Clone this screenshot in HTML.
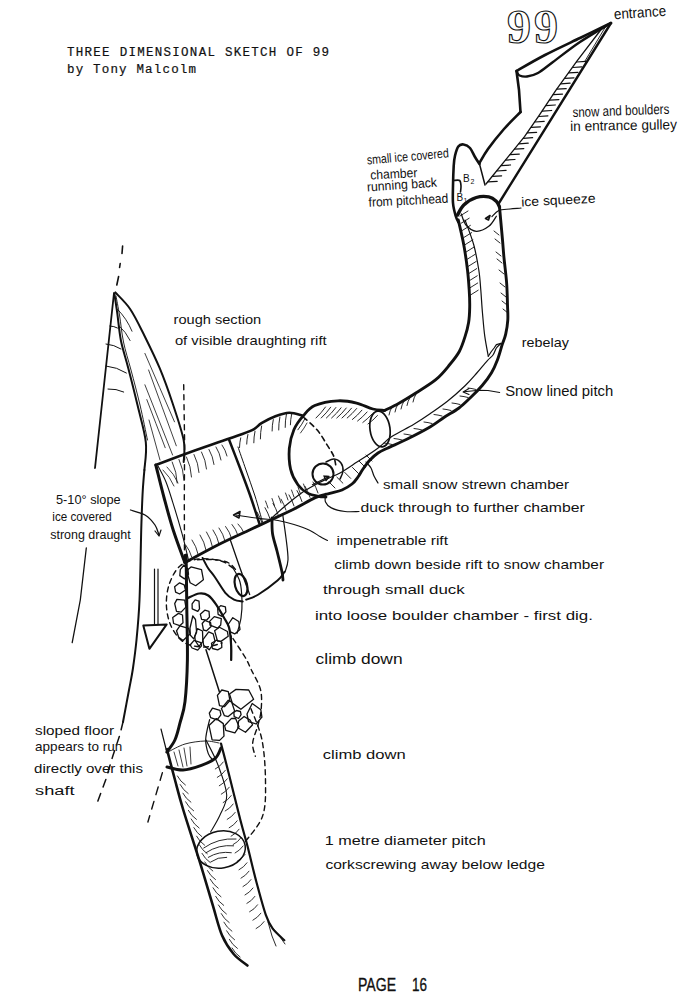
<!DOCTYPE html>
<html><head><meta charset="utf-8"><style>
html,body{margin:0;padding:0;background:#fff;overflow:hidden;width:689px;height:1000px;}
svg{display:block;}
.mono{font-family:"Liberation Mono",monospace;font-size:12.5px;fill:#111;stroke:#111;stroke-width:0.2;}
.hand{font-family:"Liberation Sans",sans-serif;font-size:13px;fill:#111;}
.nine{font-family:"Liberation Serif",serif;font-size:48px;font-weight:bold;fill:#fff;stroke:#111;stroke-width:1.1;}
.bl{font-family:"Liberation Sans",sans-serif;font-size:10px;fill:#111;}
.bs{font-family:"Liberation Sans",sans-serif;font-size:7px;fill:#111;}
.page{font-family:"Liberation Sans",sans-serif;font-size:18px;fill:#111;stroke:#111;stroke-width:0.35;}
</style></head><body>
<svg width="689" height="1000" viewBox="0 0 689 1000">
<rect width="689" height="1000" fill="#fff"/>
<g fill="none" stroke="#111" stroke-linecap="round" stroke-linejoin="round">
<path d="M611.0 23.0 C605.8 25.5 591.0 32.7 580.0 38.0 C569.0 43.3 555.6 49.5 545.0 55.0 C534.4 60.5 521.2 68.3 516.5 71.0" stroke-width="2.6" />
<path d="M517.0 72.0 C517.4 72.6 517.8 74.8 519.5 75.5 C521.2 76.2 523.9 76.9 527.0 76.5 C530.1 76.1 533.7 75.4 538.0 73.0 C542.3 70.6 546.0 67.2 553.0 62.0 C560.0 56.8 570.3 48.5 580.0 42.0 C589.7 35.5 605.8 26.2 611.0 23.0" stroke-width="2.4" />
<path d="M516.5 71.0 L519.0 90.0 L520.5 112.0" stroke-width="2.6" />
<path d="M520.5 112.0 C517.8 114.8 509.4 122.8 504.0 129.0 C498.6 135.2 492.1 143.3 488.0 149.0 C483.9 154.7 480.9 160.7 479.5 163.0" stroke-width="2.6" />
<path d="M611.0 23.0 L499.0 203.0" stroke-width="2.4" />
<path d="M606.0 26.0 L585.0 61.0" stroke-width="0.9" />
<path d="M603.0 27.0 L576.9 61.2 L556.0 90.2 L539.0 115.7 L524.5 136.6 L486.0 184.0" stroke-width="1.3" />
<line x1="576.6" y1="62.0" x2="585.8" y2="61.4" stroke-width="1.25" />
<line x1="572.7" y1="67.5" x2="581.9" y2="66.9" stroke-width="1.25" />
<line x1="568.8" y1="72.9" x2="578.0" y2="72.3" stroke-width="1.25" />
<line x1="564.8" y1="78.3" x2="574.0" y2="77.8" stroke-width="1.25" />
<line x1="560.9" y1="83.8" x2="570.1" y2="83.2" stroke-width="1.25" />
<line x1="557.0" y1="89.2" x2="566.2" y2="88.7" stroke-width="1.25" />
<line x1="553.3" y1="94.7" x2="562.5" y2="94.1" stroke-width="1.25" />
<line x1="549.7" y1="100.2" x2="558.9" y2="99.6" stroke-width="1.25" />
<line x1="546.0" y1="105.6" x2="555.2" y2="105.0" stroke-width="1.25" />
<line x1="542.4" y1="111.1" x2="551.6" y2="110.5" stroke-width="1.25" />
<line x1="538.7" y1="116.5" x2="547.9" y2="115.9" stroke-width="1.25" />
<line x1="535.0" y1="122.0" x2="544.2" y2="121.4" stroke-width="1.25" />
<line x1="531.2" y1="127.4" x2="540.4" y2="126.8" stroke-width="1.25" />
<line x1="527.4" y1="132.9" x2="536.6" y2="132.3" stroke-width="1.25" />
<line x1="523.4" y1="138.3" x2="532.6" y2="137.7" stroke-width="1.25" />
<line x1="519.0" y1="143.8" x2="528.2" y2="143.2" stroke-width="1.25" />
<line x1="514.6" y1="149.2" x2="523.8" y2="148.6" stroke-width="1.25" />
<line x1="510.1" y1="154.7" x2="519.3" y2="154.1" stroke-width="1.25" />
<line x1="505.7" y1="160.1" x2="514.9" y2="159.5" stroke-width="1.25" />
<line x1="501.3" y1="165.6" x2="510.5" y2="165.0" stroke-width="1.25" />
<line x1="496.9" y1="171.0" x2="506.1" y2="170.4" stroke-width="1.25" />
<line x1="492.4" y1="176.4" x2="501.6" y2="175.8" stroke-width="1.25" />
<line x1="488.0" y1="181.9" x2="497.2" y2="181.3" stroke-width="1.25" />
<path d="M479.5 164.0 C478.8 162.8 476.6 159.7 475.0 157.0 C473.4 154.3 471.9 150.1 470.0 148.0 C468.1 145.9 465.4 144.8 463.5 144.5 C461.6 144.2 459.7 144.6 458.3 146.5 C456.9 148.4 455.8 152.4 455.0 155.7 C454.2 158.9 454.0 160.9 453.7 166.0 C453.4 171.1 453.1 179.8 453.0 186.0 C452.9 192.2 452.6 198.0 453.0 203.0 C453.4 208.0 454.8 212.8 455.7 216.0 C456.6 219.2 457.9 221.0 458.3 222.0" stroke-width="2.6" />
<path d="M479.5 164.0 L485.0 185.0" stroke-width="1.5" />
<path d="M453.7 180.5 C454.7 180.5 458.4 179.6 459.6 180.5 C460.8 181.4 460.9 184.1 461.0 186.0 C461.1 187.9 460.6 191.0 460.5 192.0" stroke-width="1.6" />
<path d="M457.5 215.0 C458.6 213.3 460.7 207.9 463.8 205.0 C466.9 202.1 472.1 198.8 476.3 197.5 C480.5 196.2 485.5 196.3 488.8 196.9 C492.1 197.5 494.5 199.6 496.3 201.3 C498.1 203.0 499.0 206.1 499.5 207.0" stroke-width="3.4" />
<path d="M461.3 214.0 C462.1 215.8 463.5 222.1 466.0 225.0 C468.5 227.9 472.5 231.1 476.3 231.3 C480.1 231.5 485.5 228.8 488.8 226.3 C492.1 223.8 495.1 218.0 496.3 216.3" stroke-width="1.3" />
<path d="M485.5 218.5 L490.0 215.5 L488.5 220.0 L485.5 218.5" stroke-width="1.6" />
<path d="M492.0 216.5 C493.1 215.5 495.8 211.8 498.8 210.5 C501.8 209.2 506.3 209.4 510.0 209.0 C513.7 208.6 519.2 208.2 521.0 208.0" stroke-width="1.2" />
<path d="M458.3 220.0 C459.2 224.2 462.3 236.7 463.8 245.0 C465.3 253.3 466.6 262.5 467.5 270.0 C468.4 277.5 468.8 283.8 469.2 290.0 C469.6 296.2 469.8 302.0 469.7 307.4 C469.6 312.8 469.4 317.7 468.6 322.5 C467.8 327.3 466.7 331.6 465.1 336.4 C463.6 341.2 461.8 346.9 459.3 351.5 C456.8 356.1 453.9 359.6 450.0 364.3 C446.1 369.0 441.9 374.7 435.8 379.7 C429.7 384.7 419.6 390.6 413.5 394.5 C407.4 398.4 403.8 400.5 399.0 403.2 C394.2 405.9 386.9 409.3 384.5 410.5" stroke-width="2.9" />
<path d="M184.8 562.6 C190.6 559.5 208.8 549.5 219.7 544.0 C230.6 538.5 241.3 533.8 250.0 529.7 C258.7 525.6 264.6 522.9 271.8 519.5 C279.1 516.1 286.2 512.9 293.5 509.3 C300.8 505.7 309.2 500.4 315.3 497.7 C321.4 495.0 325.4 494.7 329.8 493.4 C334.2 492.1 338.3 491.6 342.0 490.0 C345.7 488.4 349.3 486.2 352.0 484.0 C354.7 481.8 356.2 479.5 358.0 477.0 C359.8 474.5 361.0 471.8 363.0 469.0 C365.0 466.2 367.5 462.7 370.0 460.0 C372.5 457.3 375.1 455.0 378.0 453.0 C380.9 451.0 382.7 450.4 387.4 448.2 C392.1 445.9 399.2 443.0 406.3 439.5 C413.4 436.0 423.7 430.7 430.0 427.0 C436.3 423.3 439.1 420.7 443.9 417.5 C448.7 414.3 454.6 411.3 459.0 408.0 C463.4 404.7 466.7 401.2 470.6 397.5 C474.5 393.8 478.7 389.6 482.2 385.5 C485.7 381.4 489.0 377.1 491.5 372.8 C494.0 368.6 495.6 364.7 497.4 360.0 C499.2 355.3 500.8 348.9 502.2 344.6 C503.6 340.3 504.8 338.2 505.7 334.1 C506.6 330.0 507.5 324.9 507.8 320.0 C508.1 315.1 507.7 311.2 507.5 305.0 C507.3 298.8 507.2 290.3 506.6 282.5 C506.0 274.7 504.7 265.1 504.0 258.0 C503.3 250.9 503.1 246.7 502.5 240.0 C501.9 233.3 501.0 223.5 500.5 218.0 C500.0 212.5 499.7 208.8 499.5 207.0" stroke-width="2.9" />
<path d="M326.0 497.0 C324.7 496.9 321.2 496.9 318.2 496.3 C315.2 495.7 311.4 495.3 308.0 493.4 C304.6 491.5 300.8 488.7 297.9 484.7 C295.0 480.7 292.0 475.4 290.6 469.3 C289.2 463.2 288.8 455.0 289.3 448.4 C289.9 441.8 291.6 435.2 293.9 429.8 C296.2 424.4 299.7 419.9 303.2 415.9 C306.7 411.8 309.0 408.0 314.8 405.5 C320.6 403.0 331.0 401.2 338.0 400.8 C345.0 400.4 350.8 401.7 356.6 403.1 C362.4 404.5 368.2 407.8 372.9 409.0 C377.5 410.2 382.6 410.2 384.5 410.5" stroke-width="2.8" />
<path d="M465.0 220.0 C466.5 224.2 471.5 236.7 473.8 245.0 C476.1 253.3 477.6 262.5 478.8 270.0 C480.0 277.5 480.2 282.8 480.8 290.0 C481.4 297.2 481.8 305.5 482.5 313.2 C483.2 320.9 483.8 329.2 484.8 336.4 C485.8 343.6 487.7 352.9 488.3 356.2" stroke-width="1.2" />
<path d="M488.3 356.2 L491.0 352.0 L494.1 348.0 L496.4 344.6 L501.0 343.4" stroke-width="1.2" />
<path d="M501.0 343.4 C500.2 344.2 497.7 346.1 496.4 348.0 C495.1 349.9 494.5 352.9 493.0 355.0 C491.5 357.1 490.0 357.7 487.2 360.8 C484.4 363.9 480.1 369.3 476.4 373.5 C472.7 377.7 469.6 381.4 464.8 386.0 C460.0 390.6 453.2 396.7 447.4 401.3 C441.6 405.9 435.6 409.9 430.0 413.8 C424.4 417.7 419.9 420.7 413.5 424.5 C407.1 428.3 397.8 432.6 391.8 436.6 C385.8 440.6 383.4 444.1 377.5 448.4 C371.6 452.7 362.9 458.2 356.6 462.3 C350.4 466.4 344.9 470.2 340.0 473.0 C335.1 475.8 331.1 476.9 327.0 478.9 C322.9 480.8 319.7 482.3 315.3 484.7 C310.9 487.1 305.6 490.0 300.8 493.4 C296.0 496.8 290.9 501.1 286.3 505.0 C281.7 508.9 275.4 514.7 273.2 516.6" stroke-width="1.2" />
<ellipse cx="380" cy="429" rx="10" ry="18" transform="rotate(-8 380 429)" stroke-width="1.7"/>
<path d="M303.2 417.0 C305.5 419.1 313.1 425.3 317.0 429.8 C320.9 434.3 323.7 439.5 326.4 443.8 C329.1 448.1 331.8 451.9 333.4 455.4 C334.9 458.9 335.3 463.1 335.7 464.7" stroke-width="1.6" stroke-dasharray="5 4"/>
<circle cx="323" cy="474" r="10.5" stroke-width="2"/>
<path d="M326.0 462.0 C327.3 461.5 331.5 458.8 334.0 459.0 C336.5 459.2 339.5 461.0 341.0 463.0 C342.5 465.0 343.2 468.3 343.0 471.0 C342.8 473.7 340.5 477.7 340.0 479.0" stroke-width="1.5" />
<path d="M312.4 484.7 L328.4 476.7" stroke-width="1.1" />
<path d="M324.0 476.0 L329.0 476.5 L326.0 480.5 L324.0 476.0" stroke-width="1.4" />
<path d="M366.0 462.0 C366.8 463.0 369.7 465.7 371.0 468.0 C372.3 470.3 372.8 473.5 374.0 476.0 C375.2 478.5 377.3 481.8 378.0 483.0" stroke-width="1.2" />
<path d="M325.5 493.4 C325.5 494.8 324.5 499.6 325.5 502.0 C326.5 504.4 328.1 506.3 331.3 507.9 C334.6 509.5 340.4 510.9 345.0 511.5 C349.6 512.1 356.7 511.5 359.0 511.5" stroke-width="1.2" />
<path d="M392.0 407.0 Q389.7 410.7 389.0 415.0" stroke-width="0.9"/>
<path d="M398.0 404.0 Q395.7 407.7 395.0 412.0" stroke-width="0.9"/>
<path d="M404.0 401.0 Q401.7 404.7 401.0 409.0" stroke-width="0.9"/>
<path d="M410.0 397.5 Q407.7 401.2 407.0 405.5" stroke-width="0.9"/>
<path d="M416.0 394.0 Q413.7 397.7 413.0 402.0" stroke-width="0.9"/>
<path d="M392.0 444.5 Q388.1 443.4 384.0 443.0" stroke-width="0.9"/>
<path d="M402.0 440.0 Q398.1 438.9 394.0 438.5" stroke-width="0.9"/>
<path d="M412.0 435.5 Q408.1 434.4 404.0 434.0" stroke-width="0.9"/>
<path d="M422.0 430.0 Q418.1 428.9 414.0 428.5" stroke-width="0.9"/>
<path d="M432.0 423.5 Q428.1 422.4 424.0 422.0" stroke-width="0.9"/>
<path d="M442.0 416.0 Q438.1 414.9 434.0 414.5" stroke-width="0.9"/>
<path d="M451.0 410.5 Q447.1 409.4 443.0 409.0" stroke-width="0.9"/>
<path d="M460.0 404.5 Q456.1 403.4 452.0 403.0" stroke-width="0.9"/>
<path d="M468.0 397.5 Q464.1 396.4 460.0 396.0" stroke-width="0.9"/>
<path d="M476.0 389.5 Q472.1 388.4 468.0 388.0" stroke-width="0.9"/>
<path d="M335.0 488.0 Q332.0 485.0 329.0 482.0" stroke-width="0.9"/>
<path d="M342.9 483.2 Q339.9 480.2 336.9 477.2" stroke-width="0.9"/>
<path d="M350.7 478.4 Q347.7 475.4 344.7 472.4" stroke-width="0.9"/>
<path d="M358.5 473.5 Q355.5 470.5 352.5 467.5" stroke-width="0.9"/>
<path d="M365.3 467.3 Q362.3 464.3 359.3 461.3" stroke-width="0.9"/>
<path d="M372.0 461.0 Q369.0 458.0 366.0 455.0" stroke-width="0.9"/>
<path d="M262.0 523.0 Q260.1 517.2 257.0 512.0" stroke-width="0.9"/>
<path d="M270.0 518.7 Q268.1 513.0 265.0 507.7" stroke-width="0.9"/>
<path d="M278.0 514.4 Q276.1 508.7 273.0 503.4" stroke-width="0.9"/>
<path d="M286.0 510.1 Q284.1 504.4 281.0 499.1" stroke-width="0.9"/>
<path d="M294.0 505.9 Q292.1 500.1 289.0 494.9" stroke-width="0.9"/>
<path d="M302.0 501.6 Q300.1 495.8 297.0 490.6" stroke-width="0.9"/>
<path d="M310.0 497.3 Q308.1 491.5 305.0 486.3" stroke-width="0.9"/>
<path d="M318.0 493.0 Q316.1 487.2 313.0 482.0" stroke-width="0.9"/>
<path d="M316.0 418.0 Q321.3 413.0 325.5 407.0" stroke-width="0.9"/>
<path d="M321.2 418.0 Q326.5 413.1 330.7 407.2" stroke-width="0.9"/>
<path d="M326.4 418.0 Q331.7 413.2 335.9 407.5" stroke-width="0.9"/>
<path d="M331.6 418.0 Q336.9 413.4 341.1 407.8" stroke-width="0.9"/>
<path d="M336.8 418.0 Q342.1 413.5 346.3 408.0" stroke-width="0.9"/>
<path d="M342.0 418.0 Q347.2 413.6 351.5 408.2" stroke-width="0.9"/>
<path d="M347.2 418.0 Q352.4 413.7 356.7 408.5" stroke-width="0.9"/>
<path d="M352.4 419.5 Q357.6 415.4 361.9 410.2" stroke-width="0.9"/>
<path d="M357.6 421.0 Q362.8 417.0 367.1 412.0" stroke-width="0.9"/>
<path d="M362.8 422.5 Q368.0 418.6 372.3 413.8" stroke-width="0.9"/>
<path d="M368.0 424.0 Q373.2 420.2 377.5 415.5" stroke-width="0.9"/>
<path d="M297.9 429.8 Q302.1 424.4 305.2 418.2" stroke-width="0.9"/>
<path d="M300.5 433.0 Q304.2 428.3 307.0 423.0" stroke-width="0.8"/>
<path d="M460.0 216.0 Q464.0 213.5 468.0 211.0" stroke-width="0.9"/>
<path d="M461.2 223.2 Q465.2 220.7 469.2 218.2" stroke-width="0.9"/>
<path d="M462.4 230.4 Q466.4 227.9 470.4 225.4" stroke-width="0.9"/>
<path d="M463.7 237.6 Q467.7 235.1 471.7 232.6" stroke-width="0.9"/>
<path d="M464.9 244.8 Q468.9 242.3 472.9 239.8" stroke-width="0.9"/>
<path d="M466.1 252.0 Q470.1 249.5 474.1 247.0" stroke-width="0.9"/>
<path d="M467.3 259.2 Q471.3 256.7 475.3 254.2" stroke-width="0.9"/>
<path d="M468.2 266.4 Q472.2 263.9 476.2 261.4" stroke-width="0.9"/>
<path d="M468.7 273.6 Q472.7 271.1 476.7 268.6" stroke-width="0.9"/>
<path d="M469.2 280.8 Q473.2 278.3 477.2 275.8" stroke-width="0.9"/>
<path d="M469.7 288.0 Q473.7 285.5 477.7 283.0" stroke-width="0.9"/>
<path d="M470.2 295.2 Q474.2 292.7 478.2 290.2" stroke-width="0.9"/>
<path d="M494.0 231.0 Q496.5 233.0 499.0 235.0" stroke-width="0.9"/>
<path d="M495.0 239.0 Q497.5 241.0 500.0 243.0" stroke-width="0.9"/>
<path d="M496.0 252.0 Q498.5 254.0 501.0 256.0" stroke-width="0.9"/>
<path d="M497.0 259.0 Q499.5 261.0 502.0 263.0" stroke-width="0.9"/>
<path d="M499.0 270.0 Q501.5 272.0 504.0 274.0" stroke-width="0.9"/>
<path d="M500.0 283.0 Q502.5 285.0 505.0 287.0" stroke-width="0.9"/>
<path d="M501.0 293.0 Q503.5 295.0 506.0 297.0" stroke-width="0.9"/>
<path d="M502.0 301.0 Q504.5 303.0 507.0 305.0" stroke-width="0.9"/>
<path d="M503.0 309.0 Q505.5 311.0 508.0 313.0" stroke-width="0.9"/>
<path d="M155.8 465.0 C161.8 462.8 179.6 455.9 192.0 451.5 C204.4 447.1 220.1 441.9 230.1 438.3 C240.1 434.8 247.0 432.7 252.2 430.2 C257.4 427.7 257.6 425.5 261.5 423.2 C265.4 420.9 270.8 418.0 275.4 416.3 C280.0 414.6 284.7 412.9 289.3 412.8 C293.9 412.7 300.9 415.4 303.2 415.9" stroke-width="2.6" />
<path d="M155.8 465.0 C157.2 470.4 161.1 486.7 164.0 497.5 C166.9 508.3 169.7 519.1 173.2 530.0 C176.7 540.9 182.9 557.2 184.8 562.6" stroke-width="3.0" />
<path d="M158.0 466.0 C159.3 468.7 163.6 476.0 166.0 482.0 C168.4 488.0 169.9 493.2 172.6 501.8 C175.3 510.4 179.4 524.1 182.1 533.8 C184.8 543.5 187.4 555.6 188.5 560.0" stroke-width="1.1" />
<path d="M229.0 439.5 C230.8 444.2 236.5 458.8 240.0 468.0 C243.5 477.2 246.8 485.8 250.0 495.0 C253.2 504.2 257.7 518.3 259.2 523.0" stroke-width="2.5" />
<path d="M238.0 447.0 C239.3 450.8 243.2 461.8 246.0 470.0 C248.8 478.2 252.2 487.3 255.0 496.0 C257.8 504.7 261.2 517.7 262.5 522.0" stroke-width="1.0" />
<path d="M172.2 462.0 Q176.8 472.0 177.2 483.0" stroke-width="0.85"/>
<path d="M179.0 459.5 Q183.6 469.5 184.0 480.5" stroke-width="0.85"/>
<path d="M186.5 457.0 Q191.0 466.5 191.5 477.0" stroke-width="0.85"/>
<path d="M194.0 454.5 Q198.3 463.0 199.0 472.5" stroke-width="0.85"/>
<path d="M201.5 452.0 Q205.7 460.0 206.5 469.0" stroke-width="0.85"/>
<path d="M209.0 449.5 Q213.0 456.5 214.0 464.5" stroke-width="0.85"/>
<path d="M216.0 447.0 Q219.8 453.0 221.0 460.0" stroke-width="0.85"/>
<path d="M222.0 445.0 Q225.6 450.0 227.0 456.0" stroke-width="0.85"/>
<path d="M163.0 470.0 Q170.1 476.9 174.0 486.0" stroke-width="0.8"/>
<path d="M167.0 467.0 Q174.1 473.9 178.0 483.0" stroke-width="0.8"/>
<path d="M191.7 557.0 Q189.9 550.4 185.7 545.0" stroke-width="0.85"/>
<path d="M198.0 554.0 Q196.4 546.4 192.0 540.0" stroke-width="0.85"/>
<path d="M206.0 550.0 Q204.5 541.9 200.0 535.0" stroke-width="0.85"/>
<path d="M212.5 547.0 Q211.0 538.9 206.5 532.0" stroke-width="0.85"/>
<path d="M219.0 544.0 Q217.4 536.4 213.0 530.0" stroke-width="0.85"/>
<path d="M225.0 541.0 Q223.3 533.9 219.0 528.0" stroke-width="0.85"/>
<path d="M231.6 538.5 Q229.8 531.9 225.6 526.5" stroke-width="0.85"/>
<path d="M238.0 535.5 Q236.1 529.4 232.0 524.5" stroke-width="0.85"/>
<path d="M244.0 533.0 Q241.9 527.9 238.0 524.0" stroke-width="0.85"/>
<path d="M240.7 437.9 Q239.6 442.7 239.5 447.7" stroke-width="0.9"/>
<path d="M247.9 434.5 Q246.8 439.2 246.7 444.1" stroke-width="0.9"/>
<path d="M255.0 431.3 Q253.8 437.0 253.8 442.8" stroke-width="0.9"/>
<path d="M261.6 426.0 Q260.4 432.4 260.4 438.9" stroke-width="0.9"/>
<path d="M273.3 419.6 Q272.1 425.2 272.1 431.0" stroke-width="0.9"/>
<path d="M279.9 417.0 Q278.6 423.4 278.7 430.0" stroke-width="0.9"/>
<path d="M286.4 414.4 Q285.1 420.8 285.2 427.4" stroke-width="0.9"/>
<path d="M291.6 414.4 Q290.5 419.5 290.4 424.8" stroke-width="0.9"/>
<path d="M268.0 508.0 Q266.8 504.5 265.5 501.0" stroke-width="0.85"/>
<path d="M274.5 505.5 Q273.2 502.0 272.0 498.5" stroke-width="0.85"/>
<path d="M281.0 503.0 Q279.8 499.5 278.5 496.0" stroke-width="0.85"/>
<path d="M288.0 500.0 Q286.8 496.5 285.5 493.0" stroke-width="0.85"/>
<path d="M294.0 497.0 Q292.8 493.5 291.5 490.0" stroke-width="0.85"/>
<path d="M300.5 494.0 Q299.2 490.5 298.0 487.0" stroke-width="0.85"/>
<path d="M306.0 491.0 Q304.8 487.5 303.5 484.0" stroke-width="0.85"/>
<path d="M236.0 515.0 C239.8 515.6 252.0 517.5 259.0 518.4 C266.0 519.3 272.2 519.5 278.0 520.5 C283.8 521.5 288.7 522.8 294.0 524.5 C299.3 526.2 305.7 528.5 310.0 530.5 C314.3 532.5 317.1 534.8 320.0 536.5 C322.9 538.2 326.2 539.8 327.5 540.5" stroke-width="1.1" />
<path d="M233.6 515.0 L240.0 511.5 L239.0 518.0 L233.6 515.0" stroke-width="1.6" />
<path d="M114.0 293.0 L95.0 468.0" stroke-width="1.8" />
<path d="M114.4 294.0 C114.9 297.1 116.1 304.9 117.2 312.7 C118.3 320.4 119.1 331.2 120.9 340.5 C122.8 349.8 125.5 357.4 128.3 368.2 C131.1 379.0 134.6 392.8 137.5 405.1 C140.4 417.4 144.7 431.3 145.8 442.1 C147.0 452.9 144.6 465.4 144.4 470.0" stroke-width="2.0" />
<path d="M116.0 296.0 C116.6 299.2 118.2 307.3 119.5 315.0 C120.8 322.7 121.6 332.8 123.5 342.0 C125.4 351.2 128.2 359.5 131.0 370.0 C133.8 380.5 137.2 393.3 140.0 405.0 C142.8 416.7 146.2 434.2 147.5 440.0" stroke-width="0.9" />
<path d="M115.3 292.4 C117.8 295.2 125.5 302.2 130.1 309.0 C134.7 315.8 138.2 323.1 143.1 333.0 C148.0 342.9 154.8 356.5 159.7 368.2 C164.6 379.9 168.6 391.3 172.6 403.3 C176.6 415.3 181.8 430.5 183.7 440.3 C185.5 450.1 183.7 458.4 183.7 462.0" stroke-width="2.0" />
<path d="M122.6 246.0 L122.0 253.5" stroke-width="1.6" />
<path d="M120.2 263.5 L119.6 267.5" stroke-width="1.6" />
<path d="M118.6 276.5 L116.8 285.0" stroke-width="1.6" />
<path d="M183.7 384.8 L184.6 442.0 L184.3 500.0 L184.5 562.0" stroke-width="1.4" stroke-dasharray="5 5"/>
<path d="M109.8 326.0 Q113.9 326.1 117.5 328.0" stroke-width="1.0"/>
<path d="M106.0 344.0 Q114.1 344.7 121.0 349.0" stroke-width="1.0"/>
<path d="M106.0 366.0 Q117.0 367.1 126.4 373.0" stroke-width="1.0"/>
<path d="M108.0 389.0 Q116.2 388.6 123.7 392.0" stroke-width="1.0"/>
<path d="M117.2 309.0 Q126.8 318.6 132.0 331.2" stroke-width="0.9"/>
<path d="M119.0 325.7 Q126.0 332.0 130.1 340.5" stroke-width="0.9"/>
<path d="M144.9 353.4 Q159.7 387.6 174.5 421.8" stroke-width="0.8"/>
<path d="M148.6 370.0 Q162.4 407.9 176.3 445.8" stroke-width="0.8"/>
<path d="M144.9 384.8 Q158.8 419.9 172.6 455.0" stroke-width="0.8"/>
<path d="M146.8 399.6 Q156.0 423.6 165.2 447.7" stroke-width="0.8"/>
<path d="M149.0 420.0 Q154.5 440.0 160.0 460.0" stroke-width="0.8"/>
<path d="M144.4 470.0 C144.1 473.3 143.3 482.0 142.8 490.0 C142.3 498.0 141.9 509.7 141.6 518.0 C141.3 526.3 141.3 526.3 141.0 540.0 C140.7 553.7 140.2 583.3 139.5 600.0 C138.8 616.7 137.6 628.7 136.5 640.0 C135.4 651.3 134.2 659.7 133.0 668.0 C131.8 676.3 130.7 681.0 129.0 690.0 C127.3 699.0 124.0 716.7 123.0 722.0" stroke-width="2.0" />
<path d="M123.0 722.0 L119.9 734.8 L112.9 755.7 L106.0 779.0 L96.6 804.5" stroke-width="1.5" stroke-dasharray="8 7"/>
<path d="M186.1 555.0 C186.2 563.7 186.6 589.7 186.8 607.2 C187.0 624.7 187.7 644.3 187.4 660.0 C187.1 675.7 186.2 691.1 185.0 701.6 C183.8 712.1 181.7 716.5 180.0 722.9 C178.3 729.3 177.1 735.1 174.9 740.0 C172.7 744.9 168.2 750.0 166.8 752.0" stroke-width="3.0" />
<path d="M86.3 548.0 L80.3 600.0 L72.2 642.7" stroke-width="1.3" />
<path d="M154.5 569.0 L154.5 624.4" stroke-width="1.2" />
<path d="M158.0 569.0 L158.0 624.4" stroke-width="1.2" />
<path d="M143.3 625.4 L166.7 624.4 L149.4 648.8 L143.3 625.4" stroke-width="2.0" />
<path d="M130.5 510.0 C132.9 510.8 140.9 512.5 145.0 515.0 C149.1 517.5 152.7 521.7 155.0 525.0 C157.3 528.3 158.3 533.3 159.0 535.0" stroke-width="1.3" />
<path d="M155.0 531.0 L159.0 536.0 L161.0 530.0" stroke-width="1.2" />
<path d="M202.6 558.0 C203.5 559.7 206.0 564.8 208.0 568.0 C210.0 571.2 211.9 572.9 214.8 577.0 C217.7 581.1 222.1 589.0 225.3 592.8 C228.5 596.6 231.1 598.2 234.0 599.7 C236.9 601.2 241.2 601.2 242.7 601.5" stroke-width="2.0" />
<ellipse cx="241" cy="585" rx="6" ry="11.3" transform="rotate(-15 241 585)" stroke-width="2.2"/>
<path d="M246.2 599.7 C248.2 598.8 253.2 597.7 258.4 594.5 C263.6 591.3 273.1 584.4 277.5 580.6 C281.9 576.8 283.3 573.4 284.5 571.9" stroke-width="2.0" />
<path d="M272.0 518.0 C272.1 520.6 271.7 528.0 272.5 533.5 C273.3 539.0 275.4 544.6 277.0 551.0 C278.6 557.4 281.0 567.2 282.0 572.0 C283.0 576.8 282.8 578.7 283.0 580.0" stroke-width="2.8" />
<path d="M282.7 514.4 C283.2 518.3 285.1 530.5 286.0 538.0 C286.9 545.5 288.2 554.0 288.0 559.7 C287.8 565.4 285.5 570.0 285.0 572.0" stroke-width="1.2" />
<path d="M230.5 540.5 C232.1 545.1 236.8 559.0 240.0 568.0 C243.2 577.0 248.1 590.1 249.7 594.5" stroke-width="1.3" />
<path d="M197.4 559.7 C200.3 559.7 209.6 559.2 214.8 559.7 C220.0 560.2 225.0 561.0 228.8 563.0 C232.6 565.0 236.1 570.4 237.5 571.9" stroke-width="1.4" stroke-dasharray="5 4"/>
<path d="M233.0 568.0 C231.0 566.8 226.6 562.5 221.0 561.0 C215.4 559.5 206.0 558.1 199.2 558.9 C192.4 559.7 185.0 561.6 180.0 566.0 C175.0 570.4 171.2 578.1 169.0 585.0 C166.8 591.9 166.0 600.0 166.5 607.2 C167.0 614.4 168.9 622.0 172.0 628.0 C175.1 634.0 179.5 639.8 185.0 643.0 C190.5 646.2 198.8 647.0 205.0 647.0 C211.2 647.0 219.2 643.7 222.0 643.0" stroke-width="1.4" stroke-dasharray="5 4"/>
<path d="M233.0 568.0 C234.2 570.3 238.5 576.5 240.0 582.0 C241.5 587.5 241.8 594.7 242.0 600.7 C242.2 606.7 241.8 612.5 241.0 618.0 C240.2 623.5 237.7 630.8 237.0 633.4" stroke-width="1.2" />
<path d="M188.0 598.0 C189.9 597.2 195.8 593.9 199.2 593.5 C202.6 593.1 205.5 593.6 208.3 595.5 C211.1 597.4 213.6 600.9 216.2 604.6 C218.8 608.3 221.8 613.8 224.0 617.7 C226.2 621.6 228.0 623.3 229.2 628.1 C230.4 632.9 230.9 641.1 231.2 646.4 C231.5 651.7 231.2 657.7 231.2 660.0" stroke-width="2.2" />
<path d="M206.0 649.7 L219.3 691.5" stroke-width="1.5" />
<path d="M231.2 636.0 L231.2 660.0" stroke-width="1.5" />
<path d="M233.0 638.6 C235.0 641.7 241.9 651.8 245.0 657.0 C248.1 662.2 248.8 664.6 251.4 670.0 C254.0 675.4 258.9 683.1 260.5 689.6 C262.1 696.1 261.6 703.3 261.2 709.2 C260.8 715.1 259.4 719.3 258.0 724.9 C256.6 730.5 253.1 737.8 252.7 743.0 C252.2 748.2 254.9 754.0 255.3 756.2" stroke-width="1.4" stroke-dasharray="5 4"/>
<path d="M201.5 645.8 L197.7 650.2 L192.1 648.0 L190.1 645.0 L194.1 640.3 L200.9 642.7 L201.5 645.8" stroke-width="1.3" />
<path d="M221.8 647.5 L217.7 649.9 L212.4 648.5 L211.5 643.3 L216.4 640.2 L221.6 642.0 L221.8 647.5" stroke-width="1.3" />
<path d="M225.9 611.9 L222.0 616.3 L218.1 614.3 L217.7 608.6 L220.7 605.6 L225.4 606.9 L225.9 611.9" stroke-width="1.3" />
<path d="M199.5 608.9 L197.8 611.4 L192.2 608.8 L192.1 603.8 L195.1 599.9 L199.0 601.2 L199.5 608.9" stroke-width="1.3" />
<path d="M188.5 574.4 L184.5 578.9 L179.8 575.6 L180.3 569.7 L184.0 565.0 L187.9 568.9 L188.5 574.4" stroke-width="1.3" />
<path d="M203.4 579.7 L195.7 585.7 L190.1 582.7 L186.6 570.8 L191.0 566.9 L201.5 569.6 L203.4 579.7" stroke-width="1.3" />
<path d="M185.5 590.0 L179.6 594.0 L175.6 592.1 L174.6 586.7 L179.6 582.8 L184.2 584.8 L185.5 590.0" stroke-width="1.3" />
<path d="M185.9 607.1 L181.1 612.1 L176.5 611.4 L174.7 603.6 L176.9 599.4 L184.7 600.2 L185.9 607.1" stroke-width="1.3" />
<path d="M183.0 622.8 L179.7 625.7 L173.6 623.5 L172.7 617.5 L178.5 613.4 L182.5 615.0 L183.0 622.8" stroke-width="1.3" />
<path d="M190.2 633.8 L183.1 640.5 L178.7 637.3 L176.5 630.8 L179.9 625.9 L188.6 628.4 L190.2 633.8" stroke-width="1.3" />
<path d="M196.6 632.2 L193.7 638.9 L190.2 635.0 L190.0 628.0 L192.8 616.0 L195.5 619.5 L196.6 632.2" stroke-width="1.3" />
<path d="M209.5 617.0 L206.5 620.2 L201.6 619.3 L200.3 614.2 L204.8 610.2 L209.0 611.4 L209.5 617.0" stroke-width="1.3" />
<path d="M211.1 626.5 L206.6 630.8 L203.5 630.0 L202.2 623.5 L204.8 620.5 L210.6 622.7 L211.1 626.5" stroke-width="1.3" />
<path d="M220.7 625.0 L217.6 628.2 L210.0 625.2 L209.6 621.4 L214.3 616.6 L221.3 618.7 L220.7 625.0" stroke-width="1.3" />
<path d="M215.1 641.4 L209.2 649.8 L203.6 645.2 L202.8 639.8 L208.7 631.9 L213.2 633.9 L215.1 641.4" stroke-width="1.3" />
<path d="M228.2 636.3 L221.3 641.1 L217.5 641.2 L214.6 630.7 L219.4 627.2 L227.4 631.5 L228.2 636.3" stroke-width="1.3" />
<path d="M240.0 629.4 L234.7 633.9 L229.9 631.7 L228.1 624.5 L232.8 617.7 L238.7 621.5 L240.0 629.4" stroke-width="1.3" />
<path d="M202.9 641.4 L199.0 646.3 L195.4 641.0 L194.7 636.4 L197.5 628.6 L202.5 631.0 L202.9 641.4" stroke-width="1.3" />
<path d="M229.9 700.5 L224.4 706.7 L219.5 705.7 L217.4 695.4 L221.8 690.0 L228.3 691.7 L229.9 700.5" stroke-width="1.3" />
<path d="M253.6 699.3 L240.9 709.3 L232.3 703.1 L229.5 694.0 L236.0 689.4 L248.7 690.0 L253.6 699.3" stroke-width="1.3" />
<path d="M234.7 711.2 L228.2 716.6 L224.4 715.7 L221.4 708.6 L228.3 700.2 L231.7 702.1 L234.7 711.2" stroke-width="1.3" />
<path d="M220.9 714.9 L217.1 719.9 L210.6 717.6 L209.3 713.1 L212.5 708.2 L220.0 710.3 L220.9 714.9" stroke-width="1.3" />
<path d="M241.1 714.6 L238.6 718.5 L234.2 716.6 L233.8 712.4 L236.4 710.5 L240.4 711.5 L241.1 714.6" stroke-width="1.3" />
<path d="M261.9 717.1 L256.1 724.0 L248.5 721.6 L247.0 714.0 L252.2 703.5 L260.8 709.7 L261.9 717.1" stroke-width="1.3" />
<path d="M224.0 736.1 L219.6 740.4 L212.1 739.8 L209.0 725.4 L216.4 718.6 L223.3 723.6 L224.0 736.1" stroke-width="1.3" />
<path d="M239.1 726.7 L234.9 732.9 L225.8 730.3 L224.6 725.7 L231.5 718.4 L235.6 718.5 L239.1 726.7" stroke-width="1.3" />
<path d="M252.6 724.8 L245.5 732.3 L237.8 727.8 L238.6 721.0 L244.1 716.5 L250.1 720.1 L252.6 724.8" stroke-width="1.3" />
<path d="M209.6 719.6 C208.9 722.9 205.9 733.5 205.7 739.2 C205.5 744.9 207.1 750.1 208.3 753.6 C209.5 757.1 212.1 758.9 212.9 760.0" stroke-width="1.2" />
<path d="M166.9 749.2 C168.2 754.3 172.3 770.0 175.0 780.0 C177.7 790.0 179.0 795.7 183.0 809.0 C187.0 822.3 194.1 843.6 199.1 859.7 C204.1 875.8 209.1 893.1 212.9 905.7 C216.7 918.4 218.7 927.6 222.1 935.6 C225.5 943.6 229.4 949.0 233.6 954.0 C237.8 959.0 245.1 963.6 247.4 965.5" stroke-width="2.6" />
<path d="M221.0 743.5 C222.3 748.7 225.8 761.7 229.0 774.5 C232.2 787.3 237.4 808.6 240.5 820.5 C243.6 832.4 244.7 835.4 247.4 845.8 C250.1 856.2 253.5 871.2 256.6 882.7 C259.7 894.2 263.1 907.2 265.8 914.9 C268.5 922.6 269.6 924.5 272.7 928.7 C275.8 932.9 282.4 938.3 284.3 940.2" stroke-width="2.2" />
<path d="M270.0 925.0 L278.0 934.0 L285.0 944.0" stroke-width="0.9" />
<path d="M268.0 922.0 L272.0 936.0 L276.0 946.0" stroke-width="0.9" />
<path d="M167.0 767.0 C169.7 767.5 177.3 770.3 183.0 770.0 C188.7 769.7 196.0 767.2 201.4 765.3 C206.8 763.4 211.9 761.3 215.2 758.4 C218.5 755.5 220.0 749.7 221.0 748.0" stroke-width="3.0" />
<path d="M168.0 752.0 C170.8 750.7 178.8 745.8 185.0 744.0 C191.2 742.2 199.3 741.2 205.0 741.0 C210.7 740.8 216.7 742.7 219.0 743.0" stroke-width="0.9" />
<path d="M174.0 752.0 Q176.0 759.0 178.0 766.0" stroke-width="0.8"/>
<path d="M179.0 750.0 Q181.0 758.5 183.0 767.0" stroke-width="0.8"/>
<path d="M184.0 748.0 Q185.5 757.0 187.0 766.0" stroke-width="0.8"/>
<path d="M190.0 747.0 Q190.5 755.5 191.0 764.0" stroke-width="0.8"/>
<path d="M161.0 729.0 L166.8 752.0" stroke-width="1.2" />
<ellipse cx="221" cy="849.5" rx="24.5" ry="18.5" transform="rotate(-10 221 849.5)" stroke-width="1.5"/>
<path d="M203.7 848.0 Q218.2 837.7 236.0 839.0" stroke-width="0.9"/>
<path d="M206.0 852.7 Q218.6 844.3 233.6 845.8" stroke-width="0.9"/>
<path d="M208.3 857.3 Q219.0 850.9 231.3 852.7" stroke-width="0.9"/>
<path d="M210.6 862.0 Q217.8 856.8 226.7 857.3" stroke-width="0.9"/>
<path d="M206.0 740.0 C208.0 744.2 214.6 755.8 218.0 765.0 C221.4 774.2 226.4 786.7 226.7 795.0 C227.0 803.3 222.7 808.8 220.0 815.0 C217.3 821.2 212.2 829.2 210.6 832.0" stroke-width="1.1" />
<path d="M251.0 708.7 C252.8 713.9 259.6 727.9 262.0 740.0 C264.4 752.1 265.4 768.6 265.5 781.3 C265.6 794.0 266.0 805.9 262.6 816.0 C259.2 826.1 247.9 837.7 245.0 842.0" stroke-width="1.4" stroke-dasharray="5 4"/>
<path d="M162.4 772.6 L147.9 822.0" stroke-width="1.4" stroke-dasharray="8 7"/>
<path d="M177.4 776.0 Q180.3 781.5 185.4 785.0" stroke-width="0.85"/>
<path d="M180.2 784.6 Q183.1 790.1 188.2 793.6" stroke-width="0.85"/>
<path d="M182.9 793.2 Q185.8 798.7 190.9 802.2" stroke-width="0.85"/>
<path d="M185.6 801.8 Q188.5 807.3 193.6 810.8" stroke-width="0.85"/>
<path d="M188.4 810.4 Q191.3 815.9 196.4 819.4" stroke-width="0.85"/>
<path d="M191.1 819.0 Q194.0 824.5 199.1 828.0" stroke-width="0.85"/>
<path d="M193.8 827.6 Q196.8 833.1 201.8 836.6" stroke-width="0.85"/>
<path d="M196.6 836.2 Q199.5 841.7 204.6 845.2" stroke-width="0.85"/>
<path d="M199.3 844.8 Q202.2 850.3 207.3 853.8" stroke-width="0.85"/>
<path d="M202.0 853.4 Q205.0 858.9 210.0 862.4" stroke-width="0.85"/>
<path d="M204.8 862.0 Q207.7 867.5 212.8 871.0" stroke-width="0.85"/>
<path d="M207.5 870.6 Q210.4 876.1 215.5 879.6" stroke-width="0.85"/>
<path d="M210.2 879.2 Q213.2 884.7 218.2 888.2" stroke-width="0.85"/>
<path d="M213.0 887.8 Q215.9 893.3 221.0 896.8" stroke-width="0.85"/>
<path d="M215.7 896.4 Q218.6 901.9 223.7 905.4" stroke-width="0.85"/>
<path d="M218.4 905.0 Q221.4 910.5 226.4 914.0" stroke-width="0.85"/>
<path d="M221.2 913.6 Q224.1 919.1 229.2 922.6" stroke-width="0.85"/>
<path d="M223.9 922.2 Q226.8 927.7 231.9 931.2" stroke-width="0.85"/>
<path d="M226.6 930.8 Q229.6 936.3 234.6 939.8" stroke-width="0.85"/>
<path d="M229.4 939.4 Q232.3 944.9 237.4 948.4" stroke-width="0.85"/>
<path d="M232.1 948.0 Q235.0 953.5 240.1 957.0" stroke-width="0.85"/>
<path d="M223.3 762.0 Q220.2 766.5 215.3 769.0" stroke-width="0.85"/>
<path d="M225.3 770.4 Q222.2 774.9 217.3 777.4" stroke-width="0.85"/>
<path d="M227.3 778.8 Q224.1 783.3 219.3 785.8" stroke-width="0.85"/>
<path d="M229.3 787.2 Q226.1 791.7 221.3 794.2" stroke-width="0.85"/>
<path d="M231.2 795.6 Q228.1 800.1 223.2 802.6" stroke-width="0.85"/>
<path d="M233.2 804.0 Q230.1 808.5 225.2 811.0" stroke-width="0.85"/>
<path d="M235.2 812.4 Q232.0 816.9 227.2 819.4" stroke-width="0.85"/>
<path d="M237.2 820.8 Q234.0 825.3 229.2 827.8" stroke-width="0.85"/>
<path d="M239.1 829.2 Q236.0 833.7 231.1 836.2" stroke-width="0.85"/>
<path d="M241.1 837.6 Q238.0 842.1 233.1 844.6" stroke-width="0.85"/>
<path d="M243.1 846.0 Q239.9 850.5 235.1 853.0" stroke-width="0.85"/>
<path d="M245.1 854.4 Q241.9 858.9 237.1 861.4" stroke-width="0.85"/>
<path d="M247.0 862.8 Q243.9 867.3 239.0 869.8" stroke-width="0.85"/>
<path d="M249.0 871.2 Q245.8 875.7 241.0 878.2" stroke-width="0.85"/>
<path d="M251.0 879.6 Q247.8 884.1 243.0 886.6" stroke-width="0.85"/>
<path d="M253.0 888.0 Q249.8 892.5 245.0 895.0" stroke-width="0.85"/>
<path d="M254.9 896.4 Q251.8 900.9 246.9 903.4" stroke-width="0.85"/>
<path d="M257.6 904.8 Q254.5 909.3 249.6 911.8" stroke-width="0.85"/>
<path d="M260.9 913.2 Q257.7 917.7 252.9 920.2" stroke-width="0.85"/>
<path d="M264.1 921.6 Q260.9 926.1 256.1 928.6" stroke-width="0.85"/>
<path d="M499.7 392.5 L488.0 390.5 L478.8 390.2 L464.0 391.8" stroke-width="1.1" />
<path d="M469.0 388.5 L463.1 391.9 L469.0 394.5" stroke-width="1.1" />
</g>

<text x="67" y="56.2" class="mono" textLength="262" lengthAdjust="spacing">THREE DIMENSIONAL SKETCH OF 99</text>
<text x="67" y="73.2" class="mono" textLength="129" lengthAdjust="spacing">by Tony Malcolm</text>
<text x="507" y="43" class="nine">9</text><text x="534" y="43" class="nine">9</text>
<text x="463" y="181.5" class="bl">B</text><text x="470.5" y="184" class="bs">2</text>
<text x="456.5" y="200.5" class="bl">B</text><text x="463.5" y="202.5" class="bs">1</text>
<text x="358" y="991" class="page" textLength="38" lengthAdjust="spacingAndGlyphs">PAGE</text>
<text x="412" y="991" class="page" textLength="15" lengthAdjust="spacingAndGlyphs">16</text>
<text x="614.2" y="19.3" class="hand" style="font-size:15px" textLength="52.3" lengthAdjust="spacingAndGlyphs" transform="rotate(-4 614.2 19.3)">entrance</text>
<text x="572.7" y="117.1" class="hand" style="font-size:14px" textLength="96.8" lengthAdjust="spacingAndGlyphs" transform="rotate(-2 572.7 117.1)">snow and boulders</text>
<text x="570.3" y="131" class="hand" style="font-size:14px" textLength="106.7" lengthAdjust="spacingAndGlyphs" transform="rotate(-1 570.3 131)">in entrance gulley</text>
<text x="367.2" y="164.5" class="hand" style="font-size:13px" textLength="82.2" lengthAdjust="spacingAndGlyphs" transform="rotate(-5 367.2 164.5)">small ice covered</text>
<text x="370.4" y="179.5" class="hand" style="font-size:13px" textLength="47.1" lengthAdjust="spacingAndGlyphs" transform="rotate(-3 370.4 179.5)">chamber</text>
<text x="367.2" y="191.5" class="hand" style="font-size:13px" textLength="70.2" lengthAdjust="spacingAndGlyphs" transform="rotate(-4 367.2 191.5)">running back</text>
<text x="368.8" y="206.8" class="hand" style="font-size:13px" textLength="79.8" lengthAdjust="spacingAndGlyphs" transform="rotate(-3 368.8 206.8)">from pitchhead</text>
<text x="521.5" y="206.5" class="hand" style="font-size:13px" textLength="74.3" lengthAdjust="spacingAndGlyphs" transform="rotate(-3 521.5 206.5)">ice squeeze</text>
<text x="173.6" y="324.2" class="hand" style="font-size:13.5px" textLength="87.6" lengthAdjust="spacingAndGlyphs">rough section</text>
<text x="174.9" y="344.5" class="hand" style="font-size:13.5px" textLength="151.7" lengthAdjust="spacingAndGlyphs">of visible draughting rift</text>
<text x="521.8" y="347.4" class="hand" style="font-size:13px" textLength="47.0" lengthAdjust="spacingAndGlyphs">rebelay</text>
<text x="505.2" y="395.8" class="hand" style="font-size:15px" textLength="108.0" lengthAdjust="spacingAndGlyphs">Snow lined pitch</text>
<text x="382.9" y="488.5" class="hand" style="font-size:13px" textLength="186.1" lengthAdjust="spacingAndGlyphs">small snow strewn chamber</text>
<text x="360.6" y="512" class="hand" style="font-size:13px" textLength="224.1" lengthAdjust="spacingAndGlyphs">duck through to further chamber</text>
<text x="336.5" y="545.2" class="hand" style="font-size:13px" textLength="111.5" lengthAdjust="spacingAndGlyphs">impenetrable rift</text>
<text x="334.2" y="569.1" class="hand" style="font-size:13.5px" textLength="269.9" lengthAdjust="spacingAndGlyphs">climb down beside rift to snow chamber</text>
<text x="323" y="593.8" class="hand" style="font-size:13.5px" textLength="141.7" lengthAdjust="spacingAndGlyphs">through small duck</text>
<text x="314.9" y="619.5" class="hand" style="font-size:13.5px" textLength="278.0" lengthAdjust="spacingAndGlyphs">into loose boulder chamber - first dig.</text>
<text x="315.6" y="664" class="hand" style="font-size:14px" textLength="87.0" lengthAdjust="spacingAndGlyphs">climb down</text>
<text x="322.8" y="758.9" class="hand" style="font-size:13.5px" textLength="83.0" lengthAdjust="spacingAndGlyphs">climb down</text>
<text x="324.8" y="845" class="hand" style="font-size:13px" textLength="160.9" lengthAdjust="spacingAndGlyphs">1 metre diameter pitch</text>
<text x="325.4" y="868.8" class="hand" style="font-size:13.5px" textLength="219.5" lengthAdjust="spacingAndGlyphs">corkscrewing away below ledge</text>
<text x="56" y="503.9" class="hand" style="font-size:13px" textLength="64.6" lengthAdjust="spacingAndGlyphs">5-10° slope</text>
<text x="52.3" y="520.6" class="hand" style="font-size:13px" textLength="59.5" lengthAdjust="spacingAndGlyphs">ice covered</text>
<text x="50.2" y="539.4" class="hand" style="font-size:13px" textLength="80.5" lengthAdjust="spacingAndGlyphs">strong draught</text>
<text x="35.1" y="734.8" class="hand" style="font-size:13.5px" textLength="78.9" lengthAdjust="spacingAndGlyphs">sloped floor</text>
<text x="35.1" y="751" class="hand" style="font-size:13.5px" textLength="87.1" lengthAdjust="spacingAndGlyphs">appears to run</text>
<text x="34" y="773" class="hand" style="font-size:13.5px" textLength="109.0" lengthAdjust="spacingAndGlyphs">directly over this</text>
<text x="35.1" y="795.2" class="hand" style="font-size:12.5px" textLength="39.5" lengthAdjust="spacingAndGlyphs">shaft</text>

</svg>
</body></html>
